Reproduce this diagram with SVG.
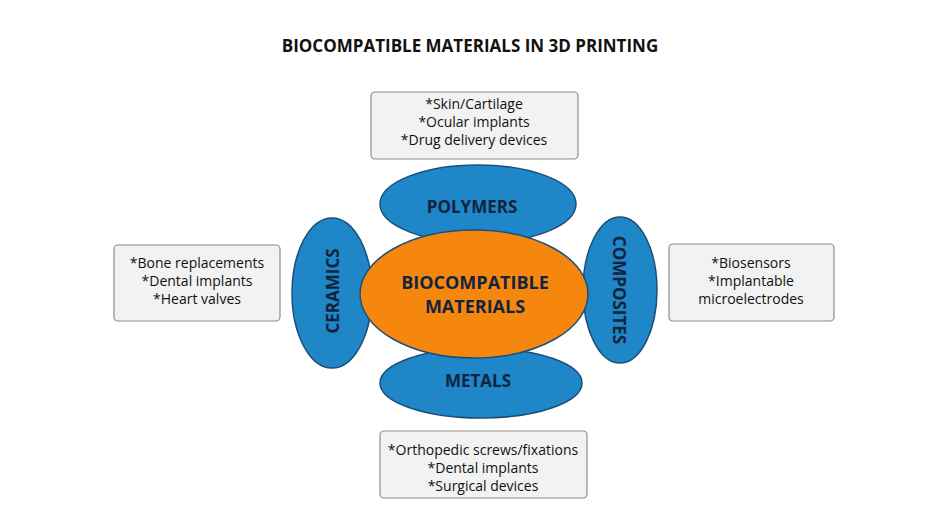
<svg xmlns="http://www.w3.org/2000/svg" width="936" height="526" viewBox="0 0 936 526">
<style>
text{font-family:"Open Sans","Liberation Sans",sans-serif;fill:#111;text-anchor:middle}
.box{fill:#f2f2f2;stroke:#8c8c8c;stroke-width:1.2}
.bl{fill:#1f86c8;stroke:#1b4f7a;stroke-width:1.5}
.or{fill:#f5870f;stroke:#1b4f7a;stroke-width:1.5}
.lt{font-size:14px;font-weight:500}
.el{font-size:17px;font-weight:bold;fill:#12243d}
.ct{font-size:18px;font-weight:bold;fill:#12243d}
</style>
<rect width="936" height="526" fill="#fff"/>
<text x="470" y="52" font-size="17" font-weight="bold">BIOCOMPATIBLE MATERIALS IN 3D PRINTING</text>
<g id="box-top"><rect class="box" x="371" y="92" width="207" height="67" rx="4"/>
<text class="lt" x="474" y="109">*Skin/Cartilage</text><text class="lt" x="474" y="127">*Ocular implants</text><text class="lt" x="474" y="145">*Drug delivery devices</text></g>
<g id="box-left"><rect class="box" x="114" y="245" width="166" height="76" rx="4"/>
<text class="lt" x="197" y="268">*Bone replacements</text><text class="lt" x="197" y="286">*Dental implants</text><text class="lt" x="197" y="304">*Heart valves</text></g>
<g id="box-right"><rect class="box" x="669" y="244" width="165" height="77" rx="4"/>
<text class="lt" x="751" y="268">*Biosensors</text><text class="lt" x="751" y="286">*Implantable</text><text class="lt" x="751" y="304">microelectrodes</text></g>
<g id="box-bottom"><rect class="box" x="380" y="431" width="207" height="67" rx="4"/>
<text class="lt" x="483" y="455">*Orthopedic screws/fixations</text><text class="lt" x="483" y="473">*Dental implants</text><text class="lt" x="483" y="491">*Surgical devices</text></g>
<g id="polymers"><ellipse class="bl" cx="478" cy="204" rx="98" ry="39"/><text class="el" x="472" y="213">POLYMERS</text></g>
<g id="metals"><ellipse class="bl" cx="481" cy="383" rx="101" ry="35"/><text class="el" x="478" y="387">METALS</text></g>
<g id="ceramics"><ellipse class="bl" cx="332" cy="293" rx="40" ry="75"/><text class="el" transform="translate(339,291) rotate(-90)">CERAMICS</text></g>
<g id="composites"><ellipse class="bl" cx="620" cy="290" rx="37" ry="73"/><text class="el" transform="translate(613,290) rotate(90)">COMPOSITES</text></g>
<g id="center"><ellipse class="or" cx="474" cy="294" rx="114" ry="64"/>
<text class="ct" x="475" y="289">BIOCOMPATIBLE</text><text class="ct" x="475" y="313">MATERIALS</text></g>
<g id="connectors"></g>
</svg>
